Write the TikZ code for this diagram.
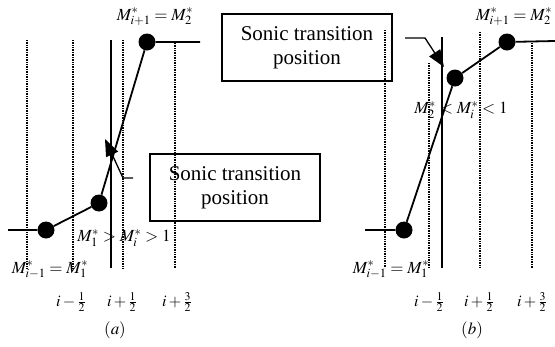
\documentclass[tikz,border=0pt]{standalone}
\usepackage{mathptmx}
\usepackage{fontspec}
\setmainfont{Liberation Serif}
\usetikzlibrary{arrows.meta}
\begin{document}
\begin{tikzpicture}[x=1pt,y=-1pt,
  gridline/.style={line width=1.3pt, dash pattern=on 0.8pt off 0.9pt},
  solidv/.style={line width=2pt},
  link/.style={line width=1.8pt},
  dot/.style={circle, fill=black, inner sep=0pt, minimum size=17pt},
  labelbox/.style={draw, line width=1.6pt, minimum width=170pt, minimum height=67pt, align=center, font=\fontsize{21}{24}\selectfont, inner sep=0pt},
  lab/.style={font=\fontsize{17}{20}\selectfont, inner sep=0pt},
  fraclab/.style={font=\fontsize{16}{18}\selectfont, inner sep=0pt},
  leader/.style={line width=1.3pt, -{Triangle[length=17pt,width=13pt]}},
]
\useasboundingbox (0,0) rectangle (555,346);
% ---------- panel (a) ----------
\foreach \x/\t in {27/40,73/40,123/40,175/43} \draw[gridline] (\x,\t) -- (\x,268);
\draw[solidv] (111,40) -- (111,268);
\node[dot] (a3) at (147,42) {};
\node[dot] (a2) at (99,203) {};
\node[dot] (a1) at (46,230) {};
\coordinate (a3r) at (200,42);
\coordinate (a1l) at (8,230);
\draw[link] (a1l) -- (a1) -- (a2) -- (a3) -- (a3r);
\node[labelbox] (boxa) at (235,187.5) {Sonic transition\\position};
\coordinate (la0) at (133,178);
\coordinate (la1) at (123,178);
\coordinate (tipa) at (105,139);
\draw[leader] (la0) -- (la1) -- (tipa);
\node[lab] (ta) at (155,17) {$M^*_{i+1}=M^*_2$};
\node[lab] (ma) at (124,238) {$M^*_1>M^*_i>1$};
\node[lab] (ba) at (50,270) {$M^*_{i-1}=M^*_1$};
\node[fraclab] (fa1) at (71,302) {$i-\frac12$};
\node[fraclab] (fa2) at (122,302) {$i+\frac12$};
\node[fraclab] (fa3) at (177,302) {$i+\frac32$};
\node[lab] (capa) at (115,330) {$(a)$};
% ---------- panel (b) ----------
\foreach \x/\t in {385/30,429/63,480/32,532/43} \draw[gridline] (\x,\t) -- (\x,268);
\draw[solidv] (442,37) -- (442,268);
\node[dot] (b3) at (507,42) {};
\node[dot] (b2) at (455,78) {};
\node[dot] (b1) at (404,230) {};
\coordinate (b3r) at (555,41);
\coordinate (b1l) at (365,230);
\draw[link] (b1l) -- (b1) -- (b2) -- (b3) -- (b3r);
\node[labelbox] (boxb) at (307,47.5) {Sonic transition\\position};
\coordinate (lb0) at (405,38);
\coordinate (lb1) at (425,38);
\coordinate (tipb) at (444,67);
\draw[leader] (lb0) -- (lb1) -- (tipb);
\node[lab] (tb) at (514,17) {$M^*_{i+1}=M^*_2$};
\node[lab] (mb) at (461,110) {$M^*_2<M^*_i<1$};
\node[lab] (bb) at (391,270) {$M^*_{i-1}=M^*_1$};
\node[fraclab] (fb1) at (429,302) {$i-\frac12$};
\node[fraclab] (fb2) at (479,302) {$i+\frac12$};
\node[fraclab] (fb3) at (532,302) {$i+\frac32$};
\node[lab] (capb) at (472,330) {$(b)$};
\end{tikzpicture}
\end{document}
